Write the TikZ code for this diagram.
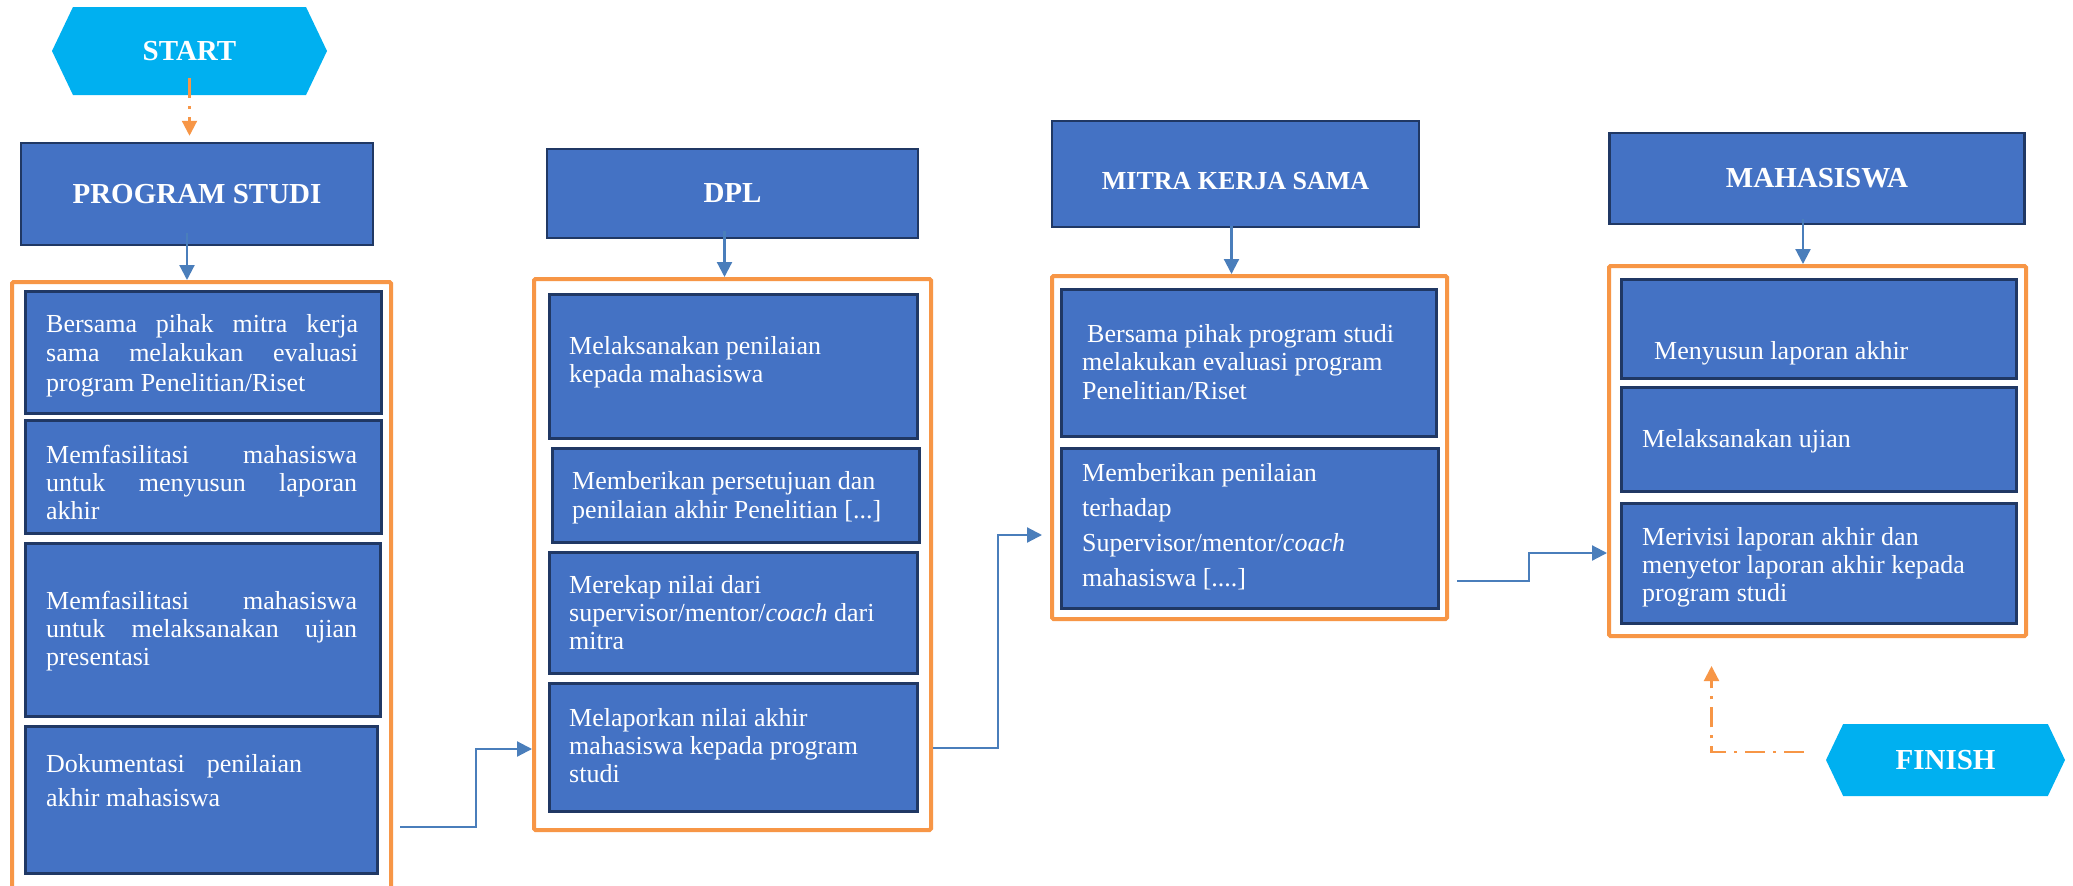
\documentclass[tikz,border=0pt]{standalone}
\usepackage{fontspec}
\setmainfont{Liberation Serif}
\usetikzlibrary{arrows.meta}
\usetikzlibrary{shapes.symbols}

\definecolor{boxblue}{HTML}{4472C4}
\definecolor{navy}{HTML}{203864}
\definecolor{grouporange}{HTML}{F79646}
\definecolor{termcyan}{HTML}{00B0F0}
\definecolor{linkblue}{HTML}{4A7EBB}

\newcommand{\jline}[2]{\makebox[#1][s]{#2}}

\tikzset{
  hdr/.style={draw=navy, line width=2.5pt, fill=boxblue, text=white,
    font=\fontsize{29}{34}\selectfont\bfseries, inner sep=0pt},
  act/.style={draw=navy, line width=2.5pt, fill=boxblue, anchor=north west, inner sep=0pt},
  acttext/.style={text=white, font=\fontsize{26}{28}\selectfont, align=left,
    anchor=north west, inner sep=0pt},
  group/.style={draw=grouporange, line width=4pt, rounded corners=1.5pt,
    anchor=north west, inner sep=0pt},
  flow/.style={draw=linkblue, line width=2.2pt, -{Triangle[length=15pt,width=15pt]}},
  term/.style={signal, signal to=west and east, signal pointer angle=129,
    fill=termcyan, text=white, font=\fontsize{29}{34}\selectfont\bfseries, inner sep=0pt},
  termflow/.style={draw=grouporange, line width=2.2pt,
    dash pattern=on 20pt off 8pt on 3pt off 8pt, -{Triangle[length=15pt,width=15pt]}}
}

\begin{document}
\begin{tikzpicture}[x=1pt,y=-1pt]
        \useasboundingbox[fill=white] (0,0) rectangle (2073,886);

        % groups
        \node[group, minimum width=379pt, minimum height=612pt] (grp1) at (10,280) {};
        \node[group, minimum width=397pt, minimum height=551pt] (grp2) at (532,277) {};
        \node[group, minimum width=395pt, minimum height=343pt] (grp3) at (1050,274) {};
        \node[group, minimum width=417pt, minimum height=370pt] (grp4) at (1607,264) {};

        % headers
        \node[term, minimum width=275pt, minimum height=88pt] (st) at (189.5,51) {START};
        \node[hdr, minimum width=352pt, minimum height=102pt] (ps) at (197,194) {PROGRAM STUDI};
        \node[hdr, minimum width=371pt, minimum height=89pt] (dpl) at (732.5,193.5) {DPL};
        \node[hdr, minimum width=367pt, minimum height=106pt, text height=32pt, text depth=2pt,
          font=\fontsize{26}{30}\selectfont\bfseries] (mk) at (1235.5,174) {MITRA KERJA SAMA};
        \node[hdr, minimum width=415pt, minimum height=91pt] (mh) at (1817,178.5) {MAHASISWA};
        \node[term, minimum width=239pt, minimum height=72pt] (fin) at (1945.5,760) {FINISH};

        % program studi
        \node[act, minimum width=356pt, minimum height=122pt] (ps1) at (24,290) {};
        \node[act, minimum width=356pt, minimum height=113pt] (ps2) at (24,419) {};
        \node[act, minimum width=355pt, minimum height=173pt] (ps3) at (24,542) {};
        \node[act, minimum width=352pt, minimum height=147pt] (ps4) at (24,725) {};
        \node[acttext, font=\fontsize{26}{29.5}\selectfont] (ps1t) at (46,314)
          {\jline{312pt}{Bersama pihak mitra kerja}\\ \jline{312pt}{sama melakukan evaluasi}\\ program Penelitian/Riset};
        \node[acttext] (ps2t) at (46,445)
          {\jline{311pt}{Memfasilitasi mahasiswa}\\ \jline{311pt}{untuk menyusun laporan}\\ akhir};
        \node[acttext] (ps3t) at (46,591)
          {\jline{311pt}{Memfasilitasi mahasiswa}\\ \jline{311pt}{untuk melaksanakan ujian}\\ presentasi};
        \node[acttext, font=\fontsize{26}{34}\selectfont] (ps4t) at (46,754)
          {\jline{256pt}{Dokumentasi penilaian}\\ akhir mahasiswa};

        % dpl
        \node[act, minimum width=368pt, minimum height=144pt] (dpl1) at (548,293) {};
        \node[act, minimum width=367pt, minimum height=94pt] (dpl2) at (551,447) {};
        \node[act, minimum width=368pt, minimum height=121pt] (dpl3) at (548,551) {};
        \node[act, minimum width=368pt, minimum height=128pt] (dpl4) at (548,682) {};
        \node[acttext] (dpl1t) at (569,336) {Melaksanakan penilaian\\ kepada mahasiswa};
        \node[acttext, font=\fontsize{26}{29}\selectfont] (dpl2t) at (572,471)
          {Memberikan persetujuan dan\\ penilaian akhir Penelitian [...]};
        \node[acttext] (dpl3t) at (569,575)
          {Merekap nilai dari\\ supervisor/mentor/\textit{coach} dari\\ mitra};
        \node[acttext] (dpl4t) at (569,708)
          {Melaporkan nilai akhir\\ mahasiswa kepada program\\ studi};

        % mitra kerja sama
        \node[act, minimum width=375pt, minimum height=147pt] (mk1) at (1060,288) {};
        \node[act, minimum width=377pt, minimum height=160pt] (mk2) at (1060,447) {};
        \node[acttext, font=\fontsize{26}{28.5}\selectfont] (mk1t) at (1082,324)
          {\hspace*{5pt}Bersama pihak program studi\\ melakukan evaluasi program\\ Penelitian/Riset};
        \node[acttext, font=\fontsize{26}{35}\selectfont] (mk2t) at (1082,463)
          {Memberikan penilaian\\ terhadap\\ Supervisor/mentor/\textit{coach}\\ mahasiswa [....]};

        % mahasiswa
        \node[act, minimum width=395pt, minimum height=99pt] (mh1) at (1620,278) {};
        \node[act, minimum width=395pt, minimum height=104pt] (mh2) at (1620,386) {};
        \node[act, minimum width=395pt, minimum height=120pt] (mh3) at (1620,502) {};
        \node[acttext] (mh1t) at (1654,341) {Menyusun laporan akhir};
        \node[acttext] (mh2t) at (1642,429) {Melaksanakan ujian};
        \node[acttext] (mh3t) at (1642,527)
          {Merivisi laporan akhir dan\\ menyetor laporan akhir kepada\\ program studi};

        % arrows
        \draw[termflow] ([yshift=-27pt]st.center) -- ([yshift=6pt]st.center |- ps.north);
        \draw[flow] ([xshift=-10pt,yshift=13pt]ps.south) -- ([xshift=-10pt]ps.south |- grp1.north);
        \draw[flow] ([xshift=-8pt,yshift=8pt]dpl.south) -- ([xshift=-8pt]dpl.south |- grp2.north);
        \draw[flow] ([xshift=-4pt,yshift=2pt]mk.south) -- ([xshift=-4pt]mk.south |- grp3.north);
        \draw[flow] ([xshift=-14pt,yshift=6pt]mh.south) -- ([xshift=-14pt]mh.south |- grp4.north);

        \draw[flow] ([xshift=7pt]grp1.east |- 0,827) -| (476,749) -- (grp2.west |- 0,749);
        \draw[flow] (grp2.east |- 0,748) -| (998,535) -- ([xshift=-8pt]grp3.west |- 0,535);
        \draw[flow] ([xshift=8pt]grp3.east |- 0,581) -| (1529,553) -- (grp4.west |- 0,553);

        \draw[termflow] ([xshift=-22pt,yshift=8pt]fin.west) -| ([xshift=-106pt,yshift=-28pt]grp4.south);
      \end{tikzpicture}
\end{document}
